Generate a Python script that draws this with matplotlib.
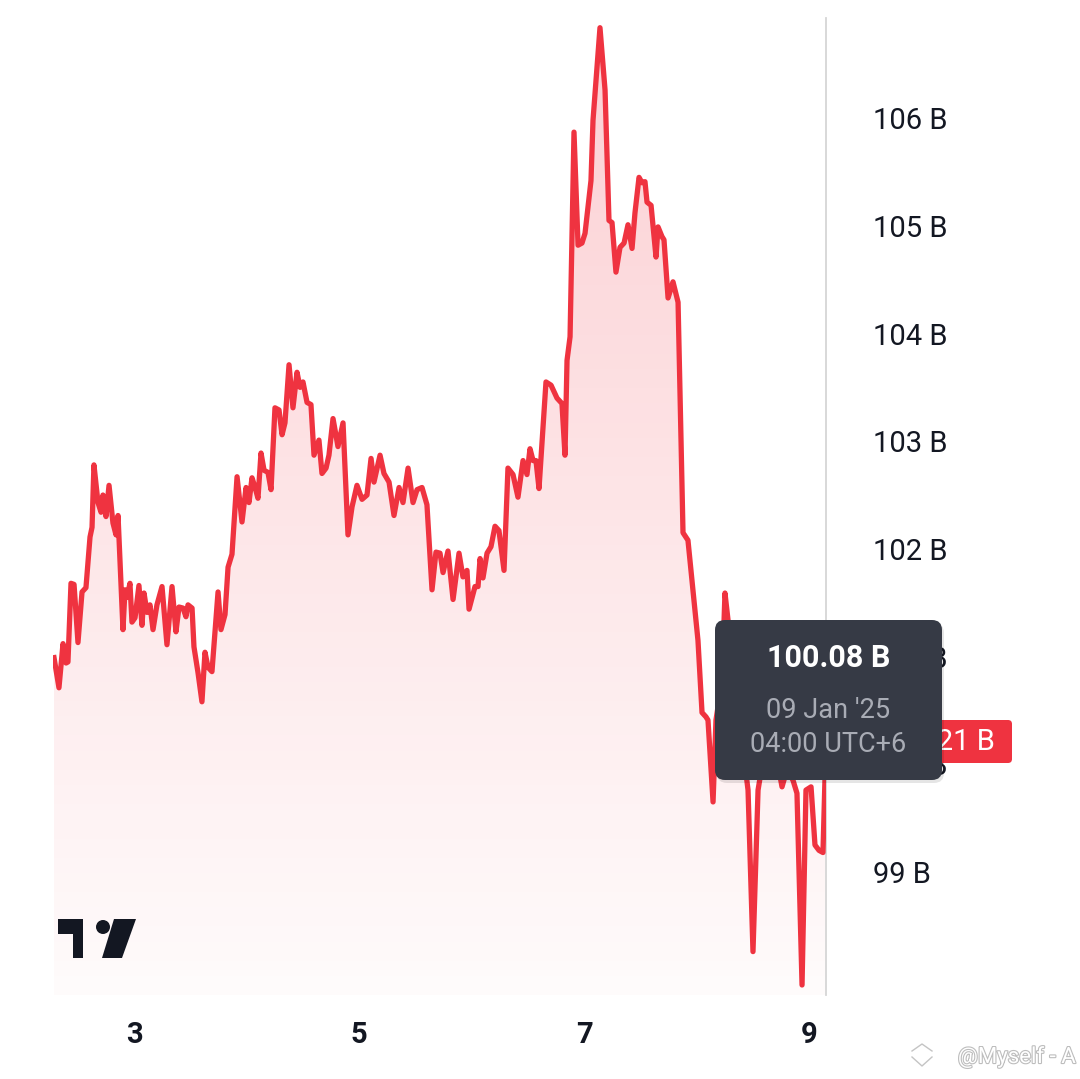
import numpy as np
import matplotlib.pyplot as plt
from matplotlib.patches import FancyBboxPatch, Polygon, Circle
import matplotlib.patheffects as pe

plt.rcParams['font.family'] = ['Roboto', 'DejaVu Sans']

# day of January 2025 (fractional) and market value in billions
days = [2.289, 2.333, 2.369, 2.396, 2.413, 2.440, 2.467, 2.502, 2.538, 2.573,
        2.609, 2.627, 2.644, 2.680, 2.707, 2.724, 2.751, 2.778, 2.813, 2.840,
        2.858, 2.902, 2.920, 2.938, 2.964, 2.982, 3.009, 3.044, 3.071, 3.089,
        3.116, 3.142, 3.169, 3.204, 3.249, 3.293, 3.338, 3.373, 3.400, 3.436,
        3.462, 3.480, 3.516, 3.533, 3.569, 3.604, 3.631, 3.658, 3.693, 3.747,
        3.773, 3.809, 3.836, 3.871, 3.916, 3.960, 3.996, 4.022, 4.049, 4.076,
        4.102, 4.129, 4.156, 4.191, 4.218, 4.253, 4.289, 4.316, 4.342, 4.378,
        4.413, 4.449, 4.476, 4.502, 4.538, 4.573, 4.600, 4.644, 4.671, 4.707,
        4.733, 4.769, 4.813, 4.858, 4.902, 4.938, 4.982, 5.027, 5.071, 5.107,
        5.133, 5.187, 5.222, 5.267, 5.311, 5.356, 5.391, 5.436, 5.480, 5.516,
        5.560, 5.604, 5.649, 5.684, 5.720, 5.747, 5.791, 5.836, 5.889, 5.924,
        5.960, 5.978, 6.031, 6.058, 6.076, 6.102, 6.138, 6.173, 6.209, 6.244,
        6.289, 6.324, 6.369, 6.413, 6.458, 6.493, 6.520, 6.547, 6.573, 6.600,
        6.636, 6.662, 6.707, 6.760, 6.804, 6.831, 6.849, 6.876, 6.911, 6.947,
        6.982, 7.009, 7.062, 7.080, 7.142, 7.187, 7.222, 7.249, 7.284, 7.320,
        7.356, 7.391, 7.427, 7.453, 7.489, 7.516, 7.542, 7.560, 7.596, 7.640,
        7.658, 7.693, 7.711, 7.747, 7.791, 7.836, 7.880, 7.924, 8.013, 8.049,
        8.084, 8.102, 8.147, 8.173, 8.227, 8.253, 8.280, 8.342, 8.404, 8.458,
        8.502, 8.547, 8.591, 8.653, 8.716, 8.760, 8.804, 8.858, 8.893, 8.938,
        8.973, 9.018, 9.053, 9.089, 9.124, 9.151]
values = [100.99, 100.71, 101.12, 100.94, 100.95, 101.68, 101.67, 101.13, 101.60, 101.64,
          102.11, 102.20, 102.78, 102.43, 102.34, 102.50, 102.30, 102.59, 102.24, 102.13,
          102.31, 101.25, 101.62, 101.55, 101.68, 101.32, 101.36, 101.66, 101.29, 101.59,
          101.41, 101.48, 101.25, 101.48, 101.65, 101.11, 101.65, 101.23, 101.46, 101.45,
          101.37, 101.48, 101.45, 101.09, 100.85, 100.58, 101.04, 100.90, 100.86, 101.60,
          101.25, 101.39, 101.83, 101.95, 102.67, 102.25, 102.57, 102.43, 102.66, 102.57,
          102.47, 102.89, 102.73, 102.71, 102.55, 103.31, 103.29, 103.06, 103.17, 103.71,
          103.31, 103.64, 103.50, 103.55, 103.36, 103.34, 102.87, 103.01, 102.70, 102.75,
          102.87, 103.21, 102.95, 103.17, 102.13, 102.39, 102.59, 102.46, 102.50, 102.84,
          102.62, 102.87, 102.70, 102.62, 102.31, 102.57, 102.43, 102.75, 102.43, 102.55,
          102.57, 102.41, 101.62, 101.97, 101.96, 101.78, 101.98, 101.53, 101.96, 101.74,
          101.80, 101.44, 101.65, 101.65, 101.91, 101.73, 101.96, 102.02, 102.21, 102.17,
          101.80, 102.75, 102.69, 102.48, 102.82, 102.69, 102.93, 102.82, 102.82, 102.56,
          103.13, 103.55, 103.52, 103.40, 103.35, 102.87, 103.75, 103.97, 105.87, 104.82,
          104.84, 104.93, 105.42, 105.98, 106.84, 106.26, 105.05, 105.03, 104.57, 104.80,
          104.84, 105.01, 104.79, 105.12, 105.45, 105.40, 105.41, 105.22, 105.19, 104.71,
          104.99, 104.90, 104.87, 104.33, 104.48, 104.29, 102.15, 102.08, 101.15, 100.48,
          100.44, 100.41, 99.65, 100.41, 100.78, 101.59, 101.34, 100.60, 100.22, 99.76,
          98.26, 99.76, 100.04, 100.13, 100.04, 99.79, 99.95, 99.85, 99.73, 97.95,
          99.76, 99.79, 99.25, 99.20, 99.18, 100.21]

price_ticks = [99, 100, 101, 102, 103, 104, 105, 106]
price_labels = [f'{t} B' for t in price_ticks]
date_ticks = [3, 5, 7, 9]
date_labels = ['3', '5', '7', '9']
last_price = '100.21 B'
tip_value = '100.08 B'
tip_date = "09 Jan '25"
tip_time = '04:00 UTC+6'

red = '#ef3340'
ink = '#131722'
W, H = 1080, 1079

fig = plt.figure(figsize=(W / 100, H / 100), dpi=100)
fig.patch.set_facecolor('white')
ax = fig.add_axes([53 / W, 1 - 995 / H, (826 - 53) / W, (995 - 18) / H])
x0, x1 = 2.28, 9.151
y0, y1 = 97.857, 106.93
ax.set_xlim(x0, x1)
ax.set_ylim(y0, y1)

# line + gradient area
ax.plot(days, values, color=red, lw=3.8, solid_joinstyle='round', zorder=3)
area = ax.fill_between(days, values, y0, color='none', lw=0)
alpha = np.linspace(0.24, 0.02, 256)[:, None]
rgba = np.zeros((256, 2, 4))
rgba[..., 0] = 0.95
rgba[..., 1] = 0.21
rgba[..., 2] = 0.27
rgba[..., 3] = alpha
img = ax.imshow(rgba, extent=[x0, x1, y0, y1], aspect='auto', origin='upper', zorder=1)
img.set_clip_path(area.get_paths()[0], transform=ax.transData)

ax.set_xticks(date_ticks)
ax.set_xticklabels(date_labels)
ax.tick_params(axis='x', length=0, pad=19, labelsize=21, labelcolor=ink)
for lbl in ax.get_xticklabels():
    lbl.set_fontweight('bold')

ax.yaxis.tick_right()
ax.set_yticks(price_ticks)
ax.set_yticklabels(price_labels)
ax.tick_params(axis='y', length=0, pad=34, labelsize=21, labelcolor=ink)

for s in ['top', 'left', 'bottom']:
    ax.spines[s].set_visible(False)
ax.spines['right'].set_color('#d6d6d6')
ax.spines['right'].set_linewidth(1.3)

# overlay in pixel coords for tag, tooltip, logo
ov = fig.add_axes([0, 0, 1, 1], zorder=5)
ov.set_xlim(0, W)
ov.set_ylim(H, 0)
ov.set_facecolor('none')
ov.axis('off')

# last price tag
ov.add_patch(FancyBboxPatch((862, 720), 150, 43, boxstyle='round,pad=0,rounding_size=4',
                            fc=red, ec='none', zorder=1))
ov.text(880, 742, last_price, color='white', fontsize=21, ha='left', va='center', zorder=2)

# crosshair tooltip
ov.add_patch(FancyBboxPatch((717, 623), 227, 160, boxstyle='round,pad=0,rounding_size=10',
                            fc=(0, 0, 0, 0.10), ec='none', zorder=3))
ov.add_patch(FancyBboxPatch((715, 620), 227, 160, boxstyle='round,pad=0,rounding_size=10',
                            fc='#363a45', ec='none', zorder=4))
ov.text(828.5, 658, tip_value, color='white', fontsize=22, fontweight='bold',
        ha='center', va='center', zorder=5)
ov.text(828.5, 710, tip_date, color='#a9acb5', fontsize=19.5, ha='center', va='center', zorder=5)
ov.text(828.5, 745, tip_time, color='#a9acb5', fontsize=19.5, ha='center', va='center', zorder=5)

# TradingView logo
ov.add_patch(Polygon([(58, 919), (83, 919), (83, 958), (73, 958), (73, 934), (58, 934)],
                     closed=True, fc=ink, ec='none'))
ov.add_patch(Circle((103, 927), 7, fc=ink, ec='none'))
ov.add_patch(Polygon([(114, 919), (136, 919), (122, 958), (102, 958)], closed=True, fc=ink, ec='none'))

# watermark
ov.plot([912, 922, 932], [1051, 1044, 1051], color='#c4c4c4', lw=1)
ov.plot([912, 922, 932], [1057, 1066, 1057], color='#c4c4c4', lw=1)
ov.text(1076, 1057, '@Myself - A', color='white', fontsize=16, ha='right', va='center',
        path_effects=[pe.withStroke(linewidth=1.6, foreground='#bdbdbd')])

fig.savefig('out.png', dpi=100, facecolor='white')
